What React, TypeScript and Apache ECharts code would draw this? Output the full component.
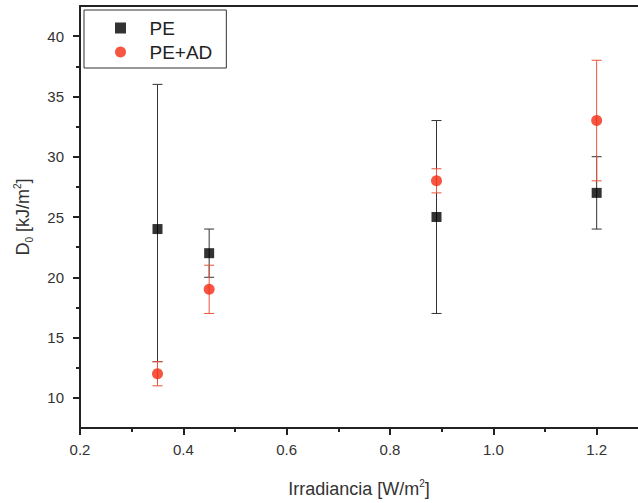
import React, { useEffect, useRef } from "react";
import * as echarts from "echarts";

const xValues = [0.35, 0.45, 0.89, 1.2];
const peValues = [24, 22, 25, 27];
const peLow = [13, 20, 17, 24];
const peHigh = [36, 24, 33, 30];
const adValues = [12, 19, 28, 33];
const adLow = [11, 17, 27, 28];
const adHigh = [13, 21, 29, 38];

const xMajorTicks = [0.2, 0.4, 0.6, 0.8, 1.0, 1.2];
const xMinorTicks = [0.3, 0.5, 0.7, 0.9, 1.1];
const yMajorTicks = [10, 15, 20, 25, 30, 35, 40];
const yMinorTicks = [12.5, 17.5, 22.5, 27.5, 32.5, 37.5];

const FONT = "Liberation Sans";
const AXIS_COLOR = "#222";
const LABEL_COLOR = "#333";

function errorSeries(name: string, low: number[], high: number[], color: string) {
  return {
    type: "custom",
    name: name + "_err",
    silent: true,
    xAxisIndex: 0,
    yAxisIndex: 0,
    data: xValues.map((x, i) => [x, low[i], high[i]]),
    renderItem: (params: any, api: any) => {
      const x = api.value(0);
      const lo = api.coord([x, api.value(1)]);
      const hi = api.coord([x, api.value(2)]);
      const w = 5;
      const style = { stroke: color, lineWidth: 1 };
      return {
        type: "group",
        children: [
          { type: "line", shape: { x1: lo[0], y1: lo[1], x2: hi[0], y2: hi[1] }, style },
          { type: "line", shape: { x1: lo[0] - w, y1: lo[1], x2: lo[0] + w, y2: lo[1] }, style },
          { type: "line", shape: { x1: hi[0] - w, y1: hi[1], x2: hi[0] + w, y2: hi[1] }, style },
        ],
      };
    },
    z: 2,
  };
}

export default function App() {
  const ref = useRef<HTMLDivElement>(null);
  useEffect(() => {
    if (!ref.current) return;
    const chart = echarts.init(ref.current, undefined, { renderer: "svg" });
    const xMin = 0.2;
    const xMax = 1.28;
    const yMin = 7.5;
    const yMax = 42.5;
    chart.setOption({
      animation: false,
      backgroundColor: "#fff",
      grid: { left: 80, right: 0, top: 6, bottom: 71, containLabel: false },
      legend: {
        data: [
          { name: "PE", icon: "path://M0,0L10,0L10,10L0,10Z" },
          { name: "PE+AD", icon: "circle" },
        ],
        orient: "vertical",
        left: 84,
        top: 10,
        padding: [8, 14, 6, 31],
        itemWidth: 48,
        itemHeight: 11,
        itemGap: 4,
        symbolKeepAspect: true,
        borderColor: "#333",
        borderWidth: 1,
        borderRadius: 0,
        backgroundColor: "#fff",
        textStyle: { fontFamily: FONT, fontSize: 19, color: "#222", lineHeight: 20, padding: [0, 0, 0, 0] },
      },
      xAxis: [
        {
          type: "value",
          min: xMin,
          max: xMax,
          interval: 0.2,
          position: "bottom",
          name: "{a|Irradiancia [W/m}{p|2}{a|]}",
          nameLocation: "middle",
          nameGap: 50,
          nameTextStyle: {
            rich: {
              a: { fontFamily: FONT, fontSize: 18, color: LABEL_COLOR, lineHeight: 22 },
              p: { fontFamily: FONT, fontSize: 10, color: LABEL_COLOR, verticalAlign: "top", lineHeight: 22 },
            },
          },
          axisLine: { show: true, lineStyle: { color: AXIS_COLOR, width: 2 } },
          axisTick: { show: true, length: 7, customValues: xMajorTicks, lineStyle: { color: AXIS_COLOR, width: 2 } },
          axisLabel: {
            customValues: xMajorTicks,
            margin: 14,
            fontFamily: FONT,
            fontSize: 15,
            color: LABEL_COLOR,
            formatter: (v: number) => v.toFixed(1),
          },
          splitLine: { show: false },
        },
        {
          type: "value",
          min: xMin,
          max: xMax,
          position: "top",
          axisLine: { show: true, lineStyle: { color: AXIS_COLOR, width: 2 } },
          axisTick: { show: false },
          axisLabel: { show: false },
          splitLine: { show: false },
        },
        {
          type: "value",
          min: xMin,
          max: xMax,
          position: "bottom",
          axisLine: { show: false },
          axisTick: { show: true, length: 4, customValues: xMinorTicks, lineStyle: { color: AXIS_COLOR, width: 2 } },
          axisLabel: { show: false },
          splitLine: { show: false },
        },
      ],
      yAxis: [
        {
          type: "value",
          min: yMin,
          max: yMax,
          position: "left",
          name: "{a|D}{s|0}{a| [kJ/m}{p|2}{a|]}",
          nameLocation: "middle",
          nameRotate: 90,
          nameGap: 46,
          nameTextStyle: {
            rich: {
              a: { fontFamily: FONT, fontSize: 18, color: LABEL_COLOR, lineHeight: 22 },
              s: { fontFamily: FONT, fontSize: 10, color: LABEL_COLOR, verticalAlign: "bottom", lineHeight: 22 },
              p: { fontFamily: FONT, fontSize: 10, color: LABEL_COLOR, verticalAlign: "top", lineHeight: 22 },
            },
          },
          axisLine: { show: true, lineStyle: { color: AXIS_COLOR, width: 2 } },
          axisTick: { show: true, length: 7, customValues: yMajorTicks, lineStyle: { color: AXIS_COLOR, width: 2 } },
          axisLabel: {
            customValues: yMajorTicks,
            margin: 16,
            fontFamily: FONT,
            fontSize: 15,
            color: LABEL_COLOR,
          },
          splitLine: { show: false },
        },
        {
          type: "value",
          min: yMin,
          max: yMax,
          position: "left",
          axisLine: { show: false },
          axisTick: { show: true, length: 4, customValues: yMinorTicks, lineStyle: { color: AXIS_COLOR, width: 2 } },
          axisLabel: { show: false },
          splitLine: { show: false },
        },
      ],
      series: [
        errorSeries("PE", peLow, peHigh, "#333"),
        errorSeries("PE+AD", adLow, adHigh, "#e8553a"),
        {
          type: "scatter",
          name: "PE",
          symbol: "rect",
          symbolSize: 10,
          itemStyle: { color: "#000" },
          data: xValues.map((x, i) => [x, peValues[i]]),
          z: 3,
        },
        {
          type: "scatter",
          name: "PE+AD",
          symbol: "circle",
          symbolSize: 11,
          itemStyle: { color: "#f22a12" },
          data: xValues.map((x, i) => [x, adValues[i]]),
          z: 4,
        },
      ],
    });
    return () => chart.dispose();
  }, []);
  return (
    <div
      ref={ref}
      style={{ position: "fixed", left: 0, top: 0, width: 638, height: 503 }}
    />
  );
}
